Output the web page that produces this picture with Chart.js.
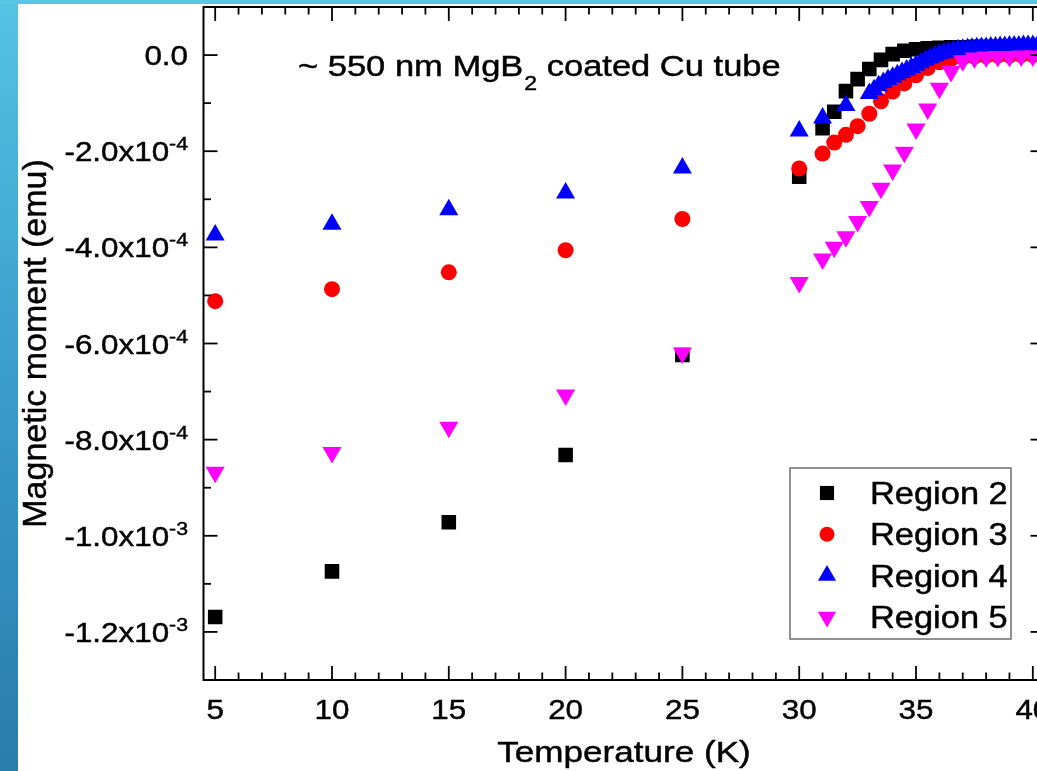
<!DOCTYPE html>
<html>
<head>
<meta charset="utf-8">
<script src="https://cdn.jsdelivr.net/npm/chart.js@4/dist/chart.umd.min.js"></script>
<style>
  html, body { margin: 0; padding: 0; width: 1037px; height: 771px; overflow: hidden; background: #fff; }
  #leftbar { position: absolute; left: 0; top: 0; width: 18px; height: 771px;
             background: linear-gradient(to bottom, #55c3e3 0%, #3a9cca 50%, #2a7cab 100%); }
  #topbar { position: absolute; left: 0; top: 0; width: 1037px; height: 4px; background: #5ac6e5; }
  #c { position: absolute; left: 18px; top: 4px; }
</style>
</head>
<body>
<div id="leftbar"></div>
<div id="topbar"></div>
<canvas id="c" width="1060" height="767"></canvas>
<script>
// ---------------- data (temperature in K, moment in emu) ----------------
const tempsR2 = [5,10,15,20,25,30,31,31.5,32,32.5,33,33.5,34,34.5,35,35.5,36,36.5,37,37.5,38,38.5,39,39.5,40];
const region2 = [-11.69e-4,-10.74e-4,-9.72e-4,-8.32e-4,-6.24e-4,-2.53e-4,-1.52e-4,-1.18e-4,-0.75e-4,-0.50e-4,
                 -0.29e-4,-0.10e-4,0.02e-4,0.09e-4,0.12e-4,0.14e-4,0.15e-4,0.16e-4,0.16e-4,0.17e-4,
                 0.17e-4,0.17e-4,0.18e-4,0.18e-4,0.18e-4];

const tempsR3 = [5,10,15,20,25,30,31,31.5,32,32.5,33,33.5,34,34.5,35,35.5,36,36.5,37,37.5,38,38.5,39,39.5,40];
const region3 = [-5.12e-4,-4.87e-4,-4.52e-4,-4.06e-4,-3.41e-4,-2.36e-4,-2.05e-4,-1.82e-4,-1.66e-4,-1.48e-4,
                 -1.22e-4,-0.96e-4,-0.76e-4,-0.59e-4,-0.42e-4,-0.27e-4,-0.15e-4,-0.08e-4,-0.05e-4,-0.03e-4,
                 -0.02e-4,-0.01e-4,-0.01e-4,0,0];

const tempsR4 = [5,10,15,20,25,30,31,32,
                 33.0,33.2,33.4,33.6,33.8,34.0,34.2,34.4,34.6,34.8,35.0,35.2,35.4,35.6,35.8,
                 36.0,36.2,36.4,36.6,36.8,37.0,37.2,37.4,37.6,37.8,38.0,38.2,38.4,38.6,38.8,
                 39.0,39.2,39.4,39.6,39.8,40.0,40.2,40.4];
const region4 = [-3.745e-4,-3.52e-4,-3.22e-4,-2.87e-4,-2.35e-4,-1.58e-4,-1.31e-4,-1.05e-4,
                 -0.80e-4,-0.72e-4,-0.64e-4,-0.57e-4,-0.51e-4,-0.46e-4,-0.41e-4,-0.36e-4,-0.31e-4,-0.26e-4,
                 -0.21e-4,-0.16e-4,-0.11e-4,-0.06e-4,-0.02e-4,0.02e-4,0.05e-4,0.07e-4,0.09e-4,0.11e-4,
                 0.12e-4,0.13e-4,0.14e-4,0.15e-4,0.16e-4,0.16e-4,0.17e-4,0.17e-4,0.18e-4,0.18e-4,
                 0.19e-4,0.19e-4,0.19e-4,0.20e-4,0.20e-4,0.20e-4,0.20e-4,0.20e-4];

const tempsR5 = [5,10,15,20,25,30,31,31.5,32,32.5,33,33.5,34,34.5,35,35.5,36,36.5,37,37.5,38,38.5,39,39.5,40];
const region5 = [-8.68e-4,-8.27e-4,-7.74e-4,-7.07e-4,-6.20e-4,-4.73e-4,-4.24e-4,-4.00e-4,-3.78e-4,-3.46e-4,
                 -3.15e-4,-2.77e-4,-2.39e-4,-2.02e-4,-1.54e-4,-1.12e-4,-0.69e-4,-0.34e-4,-0.12e-4,-0.06e-4,
                 -0.04e-4,-0.03e-4,-0.03e-4,-0.02e-4,-0.02e-4];

const seriesNames = ['Region 2', 'Region 3', 'Region 4', 'Region 5'];

// axis ticks
const xMajorTicks = [5,10,15,20,25,30,35,40];
const xTickLabels = ['5','10','15','20','25','30','35','40'];
const xMinorTicks = [5,6,7,8,9,10,11,12,13,14,15,16,17,18,19,20,21,22,23,24,25,26,27,28,29,30,31,32,33,34,35,36,37,38,39,40];
const yMajorTicks = [0,-2e-4,-4e-4,-6e-4,-8e-4,-10e-4,-12e-4];
const yTickMantissa = ['0.0','-2.0x10','-4.0x10','-6.0x10','-8.0x10','-1.0x10','-1.2x10'];
const yTickExponent = ['','-4','-4','-4','-4','-3','-3'];
const yMinorTicks = [1e-4,-1e-4,-3e-4,-5e-4,-7e-4,-9e-4,-11e-4,-13e-4];

const xTitle = 'Temperature (K)';
const yTitle = 'Magnetic moment (emu)';
const noteMain = '~ 550 nm MgB';
const noteSub = '2';
const noteTail = ' coated Cu tube';

// ---------------- helpers ----------------
const FONT = '"Liberation Sans", Arial, Helvetica, sans-serif';
function txt(ctx, s, x, y, size, align, sx) {
  ctx.save();
  ctx.font = size + 'px ' + FONT;
  const w = ctx.measureText(s).width * sx;
  const x0 = align === 'right' ? x - w : (align === 'center' ? x - w / 2 : x);
  ctx.translate(x0, y);
  ctx.scale(sx, 1);
  ctx.textAlign = 'left';
  ctx.textBaseline = 'alphabetic';
  ctx.fillStyle = '#000';
  ctx.strokeStyle = '#000';
  ctx.lineWidth = 0.45;
  ctx.fillText(s, 0, 0);
  ctx.strokeText(s, 0, 0);
  ctx.restore();
  return w;
}
function textWidth(ctx, s, size, sx) {
  ctx.save(); ctx.font = size + 'px ' + FONT;
  const w = ctx.measureText(s).width * sx; ctx.restore(); return w;
}
function marker(ctx, style, rot, r, x, y, color) {
  ctx.save();
  ctx.fillStyle = color;
  ctx.beginPath();
  if (style === 'rect') {
    const h = r * Math.SQRT1_2;
    ctx.rect(x - h, y - h, 2 * h, 2 * h);
  } else if (style === 'circle') {
    ctx.arc(x, y, r, 0, Math.PI * 2);
  } else {
    let a = rot * Math.PI / 180;
    ctx.moveTo(x + Math.sin(a) * r, y - Math.cos(a) * r);
    a += 2 * Math.PI / 3;
    ctx.lineTo(x + Math.sin(a) * r, y - Math.cos(a) * r);
    a += 2 * Math.PI / 3;
    ctx.lineTo(x + Math.sin(a) * r, y - Math.cos(a) * r);
    ctx.closePath();
  }
  ctx.fill();
  ctx.restore();
}

function toXY(xs, ys) { return xs.map((t, i) => ({ x: t, y: ys[i] })); }

const styles = [
  { color: '#000000', pointStyle: 'rect', rotation: 0, radius: 10.3, order: 3 },
  { color: '#ff0000', pointStyle: 'circle', rotation: 0, radius: 8, order: 2 },
  { color: '#0000ff', pointStyle: 'triangle', rotation: 0, radius: 11, order: 1 },
  { color: '#ff00ff', pointStyle: 'triangle', rotation: 180, radius: 11, order: 0 }
];
const allX = [tempsR2, tempsR3, tempsR4, tempsR5];
const allY = [region2, region3, region4, region5];

const datasets = seriesNames.map((name, i) => ({
  label: name,
  data: toXY(allX[i], allY[i]),
  pointStyle: styles[i].pointStyle,
  rotation: styles[i].rotation,
  pointRadius: styles[i].radius,
  backgroundColor: styles[i].color,
  borderColor: styles[i].color,
  borderWidth: 0,
  pointBorderWidth: 0,
  showLine: false,
  order: styles[i].order
}));

const decor = {
  id: 'decor',
  afterDraw(chart) {
    const { ctx, chartArea: a, scales: { x, y } } = chart;
    ctx.save();
    // frame
    ctx.strokeStyle = '#000';
    ctx.lineWidth = 2;
    ctx.strokeRect(a.left, a.top, a.right - a.left, a.bottom - a.top);
    // ticks (inward, all four sides)
    ctx.lineWidth = 1.8;
    const seg = (x1, y1, x2, y2) => { ctx.beginPath(); ctx.moveTo(x1, y1); ctx.lineTo(x2, y2); ctx.stroke(); };
    xMinorTicks.forEach(v => {
      const len = xMajorTicks.includes(v) ? 14 : 7.5;
      const px = x.getPixelForValue(v);
      seg(px, a.bottom, px, a.bottom - len);
      seg(px, a.top, px, a.top + len);
    });
    yMajorTicks.concat(yMinorTicks).forEach(v => {
      const len = yMajorTicks.includes(v) ? 14 : 7.5;
      const py = y.getPixelForValue(v);
      seg(a.left, py, a.left + len, py);
      seg(a.right, py, a.right - len, py);
    });
    // x tick labels
    xMajorTicks.forEach((v, i) => {
      txt(ctx, xTickLabels[i], x.getPixelForValue(v), a.bottom + 39, 28, 'center', 1.12);
    });
    // y tick labels with superscript exponents
    const right = a.left - 15.5;
    yMajorTicks.forEach((v, i) => {
      const py = y.getPixelForValue(v);
      const we = yTickExponent[i] ? textWidth(ctx, yTickExponent[i], 19, 1.12) : 0;
      if (yTickExponent[i]) txt(ctx, yTickExponent[i], right, py - 1, 19, 'right', 1.12);
      txt(ctx, yTickMantissa[i], right - we, py + 10, 28, 'right', 1.12);
    });
    // axis titles
    txt(ctx, xTitle, a.left + 420.5, a.bottom + 82, 30, 'center', 1.17);
    ctx.save();
    ctx.translate(28, (a.top + a.bottom) / 2);
    ctx.rotate(-Math.PI / 2);
    txt(ctx, yTitle, 0, 0, 34, 'center', 1.0);
    ctx.restore();
    // annotation
    let nx = a.left + 94.5, ny = a.top + 69;
    nx += txt(ctx, noteMain, nx, ny, 30, 'left', 1.15);
    nx += txt(ctx, noteSub, nx + 1, ny + 14, 20, 'left', 1.15) + 1;
    txt(ctx, noteTail, nx, ny, 30, 'left', 1.15);
    // legend
    const bx = a.right - 254.5, by = a.bottom - 212, bw = 221, bh = 171;
    ctx.fillStyle = '#fff';
    ctx.fillRect(bx, by, bw, bh);
    ctx.strokeStyle = '#6e6e6e';
    ctx.lineWidth = 1.5;
    ctx.strokeRect(bx, by, bw, bh);
    chart.data.datasets.forEach((ds, i) => {
      const ry = by + 25 + i * 41.3;
      marker(ctx, ds.pointStyle, ds.rotation, ds.pointStyle === 'rect' ? 10 : (ds.pointStyle === 'circle' ? 7.5 : 10.5), bx + 37, ry, ds.backgroundColor);
      txt(ctx, ds.label, bx + 80, ry + 11, 31, 'left', 1.11);
    });
    ctx.restore();
  }
};

new Chart(document.getElementById('c'), {
  type: 'scatter',
  data: { datasets },
  options: {
    responsive: false,
    animation: false,
    events: [],
    layout: { autoPadding: false, padding: { left: 185.5, top: 3, right: 33.5, bottom: 91 } },
    scales: {
      x: { type: 'linear', min: 4.5, max: 40.5, display: false },
      y: { type: 'linear', min: -13e-4, max: 1e-4, display: false }
    },
    plugins: { legend: { display: false }, tooltip: { enabled: false } }
  },
  plugins: [decor]
});
</script>
</body>
</html>
